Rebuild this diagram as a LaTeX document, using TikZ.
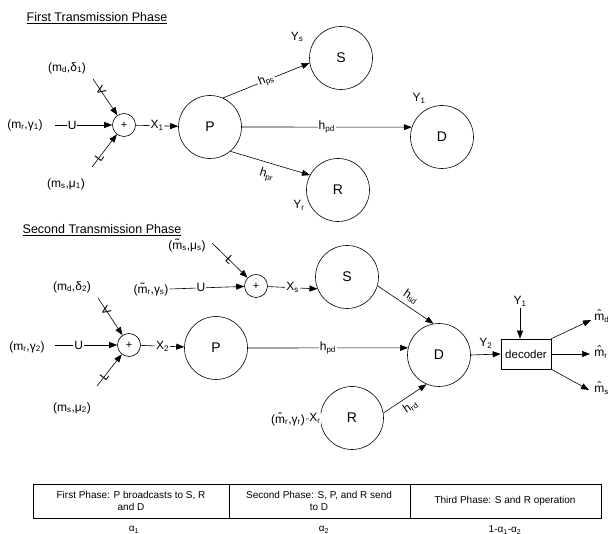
\documentclass[tikz,border=0pt]{standalone}
\usepackage{fontspec}
\setmainfont{Liberation Sans}
\usetikzlibrary{arrows.meta}
\newcommand{\sbs}[1]{\textsubscript{#1}}
\begin{document}
\begin{tikzpicture}[x=1pt,y=-1pt,
  big/.style={circle,draw,minimum size=63pt,inner sep=0pt,font=\fontsize{14}{16}\selectfont},
  sumnode/.style={circle,draw,minimum size=23pt,inner sep=0pt,font=\fontsize{11}{12}\selectfont},
  lbl/.style={inner sep=1pt,font=\fontsize{12}{14}\selectfont},
  onl/.style={fill=white,inner sep=1pt,font=\fontsize{12}{14}\selectfont},
  mk/.style={inner sep=0pt,font=\fontsize{12}{14}\selectfont},
  ttl/.style={inner sep=1pt,font=\fontsize{12.5}{14}\selectfont},
  tbl/.style={inner sep=1pt,align=center,font=\fontsize{10}{12.5}\selectfont},
  arr/.style={-{Triangle[length=8pt,width=6pt]}},
  line width=0.6pt]
\useasboundingbox (0,0) rectangle (608,534);

% ---------- First phase ----------
\node[ttl] (t1) at (97,18) {\underline{First Transmission Phase}};
\node[sumnode] (a1) at (124,125) {+};
\node[big] (P1) at (210,127) {P};
\node[big] (S1) at (341,58) {S};
\node[big] (D1) at (442,137) {D};
\node[big] (R1) at (338,190) {R};

\node[lbl] (md1) at (67,68) {(m\sbs{d},δ\sbs{1})};
\node[lbl] (mr1) at (25,125) {(m\sbs{r},γ\sbs{1})};
\node[lbl] (ms1) at (66,184) {(m\sbs{s},μ\sbs{1})};
\coordinate (v1) at (93,79);
\coordinate (u1) at (55,125);
\coordinate (l1) at (92,167);
\draw[arr] (v1) -- (a1) node[mk,pos=0.33,sloped]{V};
\draw[arr] (u1) -- (a1) node[onl,pos=0.3]{U};
\draw[arr] (l1) -- (a1) node[mk,pos=0.3,sloped]{L};
\draw[arr] (a1) -- (P1) node[onl,midway]{X\sbs{1}};

\draw[arr] (P1.66) -- (S1.189) node[onl,midway,sloped]{h\sbs{ps}};
\draw[arr] (P1.east) -- (D1.162) node[onl,midway]{h\sbs{pd}};
\draw[arr] (P1.-50) -- (R1.152) node[lbl,midway,below=5pt,sloped]{h\sbs{pr}};
\node[lbl] (ys) at (297,37) {Y\sbs{s}};
\node[lbl] (y1a) at (419,98) {Y\sbs{1}};
\node[lbl] (yr) at (299,205) {Y\sbs{r}};

% ---------- Second phase ----------
\node[ttl] (t2) at (102,230) {\underline{Second Transmission Phase}};
\node[sumnode] (a2) at (256,286) {+};
\node[big] (S2) at (347,277) {S};
\node[big] (P2) at (216,348) {P};
\node[big] (D2) at (439,355) {D};
\node[big] (R2) at (352,418) {R};
\node[sumnode] (a3) at (129,345) {+};
\node[draw,minimum width=50pt,minimum height=30pt,inner sep=1pt,font=\fontsize{11.5}{13}\selectfont] (dec) at (526,354) {decoder};

\node[lbl] (ms2t) at (187,245) {(\~{m}\sbs{s},μ\sbs{s})};
\node[lbl] (mr2t) at (151,289) {(\~{m}\sbs{r},γ\sbs{s})};
\coordinate (l2) at (212,243);
\draw[arr] (l2) -- (a2) node[mk,pos=0.5,sloped]{L};
\draw[arr] (mr2t.east) -- (a2) node[onl,pos=0.42]{U};
\draw[arr] (a2) -- (S2.202) node[onl,midway]{X\sbs{s}};

\node[lbl] (md2) at (72,287) {(m\sbs{d},δ\sbs{2})};
\node[lbl] (mr2) at (27,347) {(m\sbs{r},γ\sbs{2})};
\node[lbl] (ms2) at (72,408) {(m\sbs{s},μ\sbs{2})};
\coordinate (v2) at (98,298);
\coordinate (u2) at (55,345);
\coordinate (l2b) at (97,386);
\draw[arr] (v2) -- (a3) node[mk,pos=0.33,sloped]{V};
\draw[arr] (u2) -- (a3) node[onl,pos=0.38]{U};
\draw[arr] (l2b) -- (a3) node[mk,pos=0.3,sloped]{L};
\draw[arr] (a3) -- (P2) node[onl,midway]{X\sbs{2}};

\draw[arr] (S2.-16) -- (D2.100) node[lbl,midway,above=3pt,sloped]{h\sbs{sd}};
\draw[arr] (P2.east) -- (D2.167) node[onl,midway]{h\sbs{pd}};
\draw[arr] (R2.9) -- (D2.-113) node[lbl,midway,below=3pt,sloped]{h\sbs{rd}};

\node[lbl] (mhr) at (288,419) {(\^{m}\sbs{r},γ\sbs{r})};
\draw (mhr.east) -- (R2.west) node[onl,pos=0.62,inner sep=0.5pt]{X\sbs{r}};

\draw[arr] (D2.east) -- (dec.west) node[lbl,midway,above=5pt]{Y\sbs{2}};
\coordinate (y1t) at (520,308);
\node[lbl,anchor=south] (y1b) at (y1t) {Y\sbs{1}};
\draw[arr] (y1t) -- (y1t |- dec.north);
\coordinate (o1) at (591,320);
\coordinate (o2) at (590,354);
\coordinate (o3) at (589,390);
\draw[arr] (dec.north east) -- (o1);
\draw[arr] (dec.east) -- (o2);
\draw[arr] (dec.south east) -- (o3);
\node[lbl,anchor=west] (mhd) at (593,316) {\^{m}\sbs{d}};
\node[lbl,anchor=west] (mhrr) at (593,352) {\^{m}\sbs{r}};
\node[lbl,anchor=west] (mhs) at (593,388) {\^{m}\sbs{s}};

% ---------- Table ----------
\coordinate (tl) at (33,484);
\coordinate (br) at (601,518);
\draw[line width=0.5pt] (tl) rectangle (br);
\draw[line width=0.5pt] (229,484) -- (229,518);
\draw[line width=0.5pt] (410,484) -- (410,518);
\node[tbl] (c1) at (131,501) {First Phase: P broadcasts to S, R\\and D};
\node[tbl] (c2) at (319,501) {Second Phase: S, P, and R send\\to D};
\node[tbl] (c3) at (505,501) {Third Phase: S and R operation};
\node[tbl] (al1) at (134,530) {α\sbs{1}};
\node[tbl] (al2) at (324,530) {α\sbs{2}};
\node[tbl] (al3) at (505,530) {1-α\sbs{1}-α\sbs{2}};
\end{tikzpicture}
\end{document}
